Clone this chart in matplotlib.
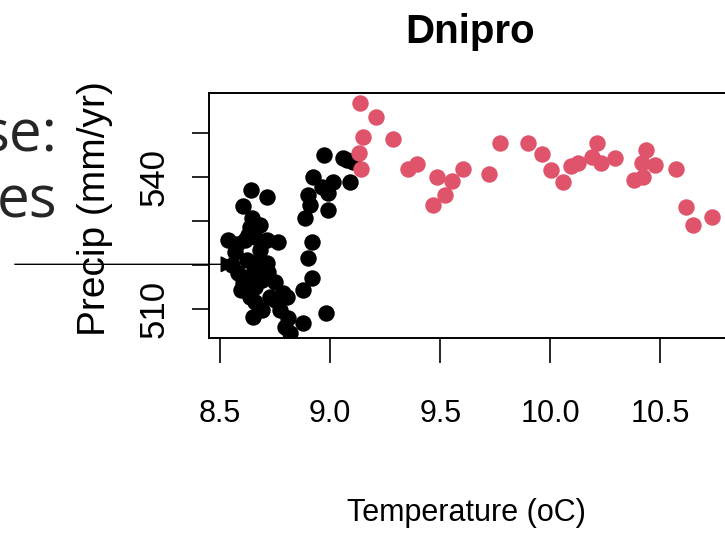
import matplotlib
matplotlib.use("Agg")
import matplotlib.pyplot as plt
from matplotlib.patches import FancyArrowPatch

# Dnipro: annual temperature vs precipitation, two periods
black_temp = [8.640, 8.711, 8.605, 8.643, 8.635, 8.680, 8.536, 8.575, 8.612, 8.658,
              8.711, 8.764, 8.567, 8.620, 8.673, 8.711, 8.582, 8.650, 8.718, 8.605,
              8.658, 8.749, 8.786, 8.635, 8.726, 8.658, 8.650, 8.690, 8.771, 8.809,
              8.794, 8.817, 8.553, 8.680, 8.626, 8.749, 8.594, 8.690,
              8.973, 9.059, 9.105, 9.075, 8.923, 9.014, 9.090, 8.961, 8.900, 8.991,
              8.908, 8.991, 8.885, 8.915, 8.897, 8.918, 8.877, 8.979, 8.877, 8.802]
black_precip = [537.0, 535.4, 533.4, 530.6, 528.7, 529.1, 525.7, 524.9, 525.7, 526.4,
                525.7, 525.3, 523.0, 521.2, 520.8, 520.4, 518.2, 518.2, 518.5, 515.9,
                515.1, 516.3, 513.6, 512.9, 512.9, 511.7, 508.3, 509.8, 509.8, 508.0,
                506.1, 504.6, 520.0, 523.4, 526.8, 512.1, 514.4, 516.6,
                544.9, 544.2, 543.4, 543.8, 540.0, 538.9, 538.9, 537.8, 535.9, 536.3,
                533.6, 532.5, 530.6, 525.3, 521.6, 517.0, 514.4, 509.1, 506.8, 512.9]

red_temp = [9.135, 9.206, 9.150, 9.286, 9.132, 9.138, 9.355, 9.393, 9.484, 9.465,
            9.521, 9.552, 9.602, 9.721, 9.771, 9.899, 9.964, 10.002, 10.059, 10.093,
            10.127, 10.188, 10.211, 10.229, 10.295, 10.380, 10.423, 10.435, 10.418, 10.476,
            10.570, 10.617, 10.650, 10.736]
red_precip = [556.8, 553.5, 549.1, 548.5, 545.5, 541.9, 541.7, 542.9, 540.0, 533.6,
              535.9, 539.1, 541.7, 540.6, 547.6, 547.7, 545.2, 541.6, 538.8, 542.5,
              543.1, 544.6, 547.7, 543.2, 544.3, 539.4, 540.0, 546.1, 543.2, 542.7,
              541.7, 533.2, 529.1, 531.0]

y_ticks = [510, 520, 530, 540, 550]
y_tick_labels = ["510", "", "", "540", ""]
x_ticks = [8.5, 9.0, 9.5, 10.0, 10.5]
x_tick_labels = ["8.5", "9.0", "9.5", "10.0", "10.5"]

sans = ["Liberation Sans", "DejaVu Sans"]

fig = plt.figure(figsize=(7.25, 5.41), dpi=100)
ax = fig.add_axes([0.2883, 0.3752, 0.7287, 0.4534])

ax.scatter(black_temp, black_precip, s=140, color="black", linewidths=0, zorder=3)
ax.scatter(red_temp, red_precip, s=140, color="#DF536B", linewidths=0, zorder=3)

ax.set_xlim(8.449, 10.85)
ax.set_ylim(503.5, 559.1)

ax.set_xticks(x_ticks)
ax.set_xticklabels(x_tick_labels, family=sans, fontsize=22)
ax.set_yticks(y_ticks)
ax.set_yticklabels(y_tick_labels, family=sans, fontsize=25, rotation=90, va="center")
ax.tick_params(axis="x", length=18, width=1.2, pad=26)
ax.tick_params(axis="y", length=12, width=1.2, pad=16)
for sp in ax.spines.values():
    sp.set_linewidth(1.4)

fig.text(470 / 725, 1 - 43 / 541, "Dnipro", family=sans, fontsize=29,
         fontweight="bold", ha="center", va="baseline")
fig.text(466 / 725, 1 - 513 / 541, "Temperature (oC)", family=sans, fontsize=22,
         ha="center", va="center")
fig.text(95 / 725, 1 - 209 / 541, "Precip (mm/yr)", family=sans, fontsize=28,
         rotation=90, ha="center", va="center")

# bits of the slide behind the plot
fig.text(57 / 725, 1 - 152 / 541, "se:", family=["Open Sans", "DejaVu Sans"],
         fontsize=42, color="#262626", ha="right", va="baseline")
fig.text(57 / 725, 1 - 218 / 541, "es", family=["Open Sans", "DejaVu Sans"],
         fontsize=42, color="#262626", ha="right", va="baseline")

fig.add_artist(FancyArrowPatch(
    (12 / 725, 1 - 264.3 / 541), (240 / 725, 1 - 264.3 / 541),
    transform=fig.transFigure, arrowstyle="-|>", mutation_scale=26,
    lw=1, color="black", zorder=10))

fig.savefig("out.png", dpi=100)
